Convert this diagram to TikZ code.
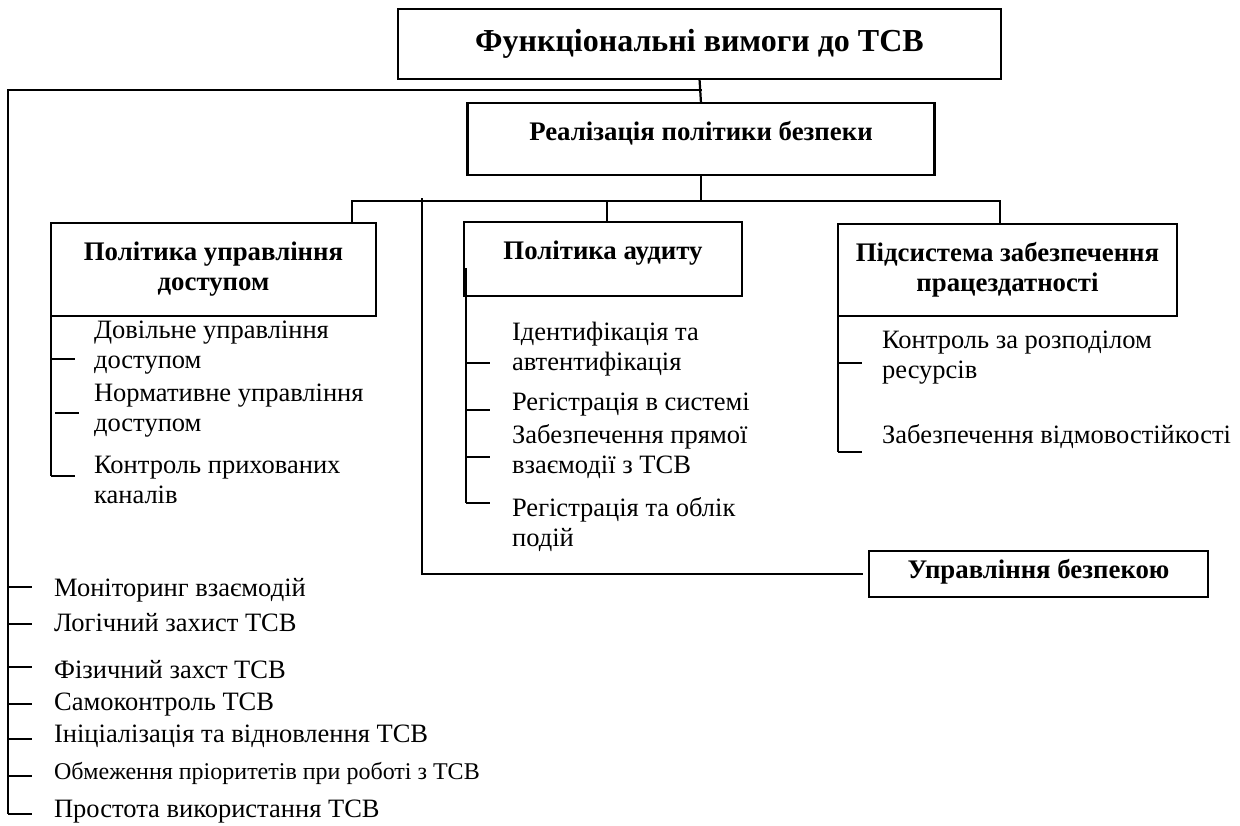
\documentclass[tikz,border=0pt]{standalone}
\usepackage{fontspec}
\setmainfont{Liberation Serif}
\tikzset{
  box/.style={draw, line width=2.2pt, inner sep=0pt, outer sep=0pt, align=center, font=\fontsize{26.8}{30}\selectfont\bfseries},
  item/.style={anchor=west, inner sep=0pt, align=left, font=\fontsize{26.5}{30}\selectfont},
}
\begin{document}
\begin{tikzpicture}[x=1pt,y=-1pt,line width=2.2pt]
\useasboundingbox (0,0) rectangle (1240,825);
% boxes
\node[box, minimum width=603pt, minimum height=70pt, font=\fontsize{32}{38}\selectfont\bfseries] (func) at (699.5,44) {Функціональні вимоги до ТСВ};
\node[box, minimum width=467pt, minimum height=72pt, text height=18pt, text depth=15pt] (real) at (701,139) {Реалізація політики безпеки};
\node[box, minimum width=325pt, minimum height=93pt] (access) at (213.5,269.5) {Політика управління\\доступом};
\node[box, minimum width=278pt, minimum height=74pt, text height=18pt, text depth=18pt] (audit) at (603,259) {Політика аудиту};
\node[box, minimum width=339pt, minimum height=92pt] (work) at (1007.5,270) {Підсистема забезпечення\\працездатності};
\node[box, minimum width=339pt, minimum height=46pt, text height=18pt, text depth=9pt] (manage) at (1038.5,574) {Управління безпекою};
% items
\node[item] (a1) at (93,348) {Довільне управління\\доступом};
\node[item] (a2) at (93,411) {Нормативне управління\\доступом};
\node[item] (a3) at (93,480) {Контроль прихованих\\каналів};
\node[item] (b1) at (511,349.5) {Ідентифікація та\\автентифікація};
\node[item] (b2) at (511,405) {Регістрація в системі};
\node[item] (b3) at (511,452) {Забезпечення прямої\\взаємодії з ТСВ};
\node[item] (b4) at (511,525) {Регістрація та облік\\подій};
\node[item] (c1) at (881,358) {Контроль за розподілом\\ресурсів};
\node[item] (c2) at (881,437) {Забезпечення відмовостійкості};
\node[item] (d1) at (53,590) {Моніторинг взаємодій};
\node[item] (d2) at (53,623) {Логічний захист ТСВ};
\node[item] (d3) at (53,670) {Фізичний захст ТСВ};
\node[item] (d4) at (53,705) {Самоконтроль ТСВ};
\node[item] (d5) at (53,736) {Ініціалізація та відновлення ТСВ};
\node[item, font=\fontsize{24}{28}\selectfont] (d6) at (53,773) {Обмеження пріоритетів при роботі з ТСВ};
\node[item] (d7) at (53,812) {Простота використання ТСВ};
% buses
\coordinate (lb) at (8,90);
\coordinate (le) at (8,814);
\coordinate (hb) at (352,201);
\coordinate (he) at (1000,201);
\coordinate (mb) at (422,198);
\draw (func.south) -- (real.north);
\draw ([xshift=2pt]func.south |- lb) -- (lb) -- (le);
\draw (real.south) -- (real.south |- hb);
\draw (access.north -| hb) -- (hb) -- (he) -- (work.north -| he);
\draw (607,201) -- (audit.north -| 607,0);
\draw[shorten >=6pt] (mb) -- (mb |- manage.west) -- (manage.west);
% branches
\draw (access.south west) -- (51,476);
\draw ([xshift=2pt,yshift=28pt]audit.south west) -- (466,503);
\draw (work.south west) -- (838,452);
\foreach \y in {359,476} \draw (51,\y) -- ++(24,0);
\draw (55,413) -- ++(24,0);
\foreach \y in {363,410,457,503} \draw (466,\y) -- ++(24,0);
\foreach \y in {363,452} \draw (838,\y) -- ++(24,0);
\foreach \y in {587,624,667,704,739,776,814} \draw (8,\y) -- ++(24,0);
\end{tikzpicture}
\end{document}
